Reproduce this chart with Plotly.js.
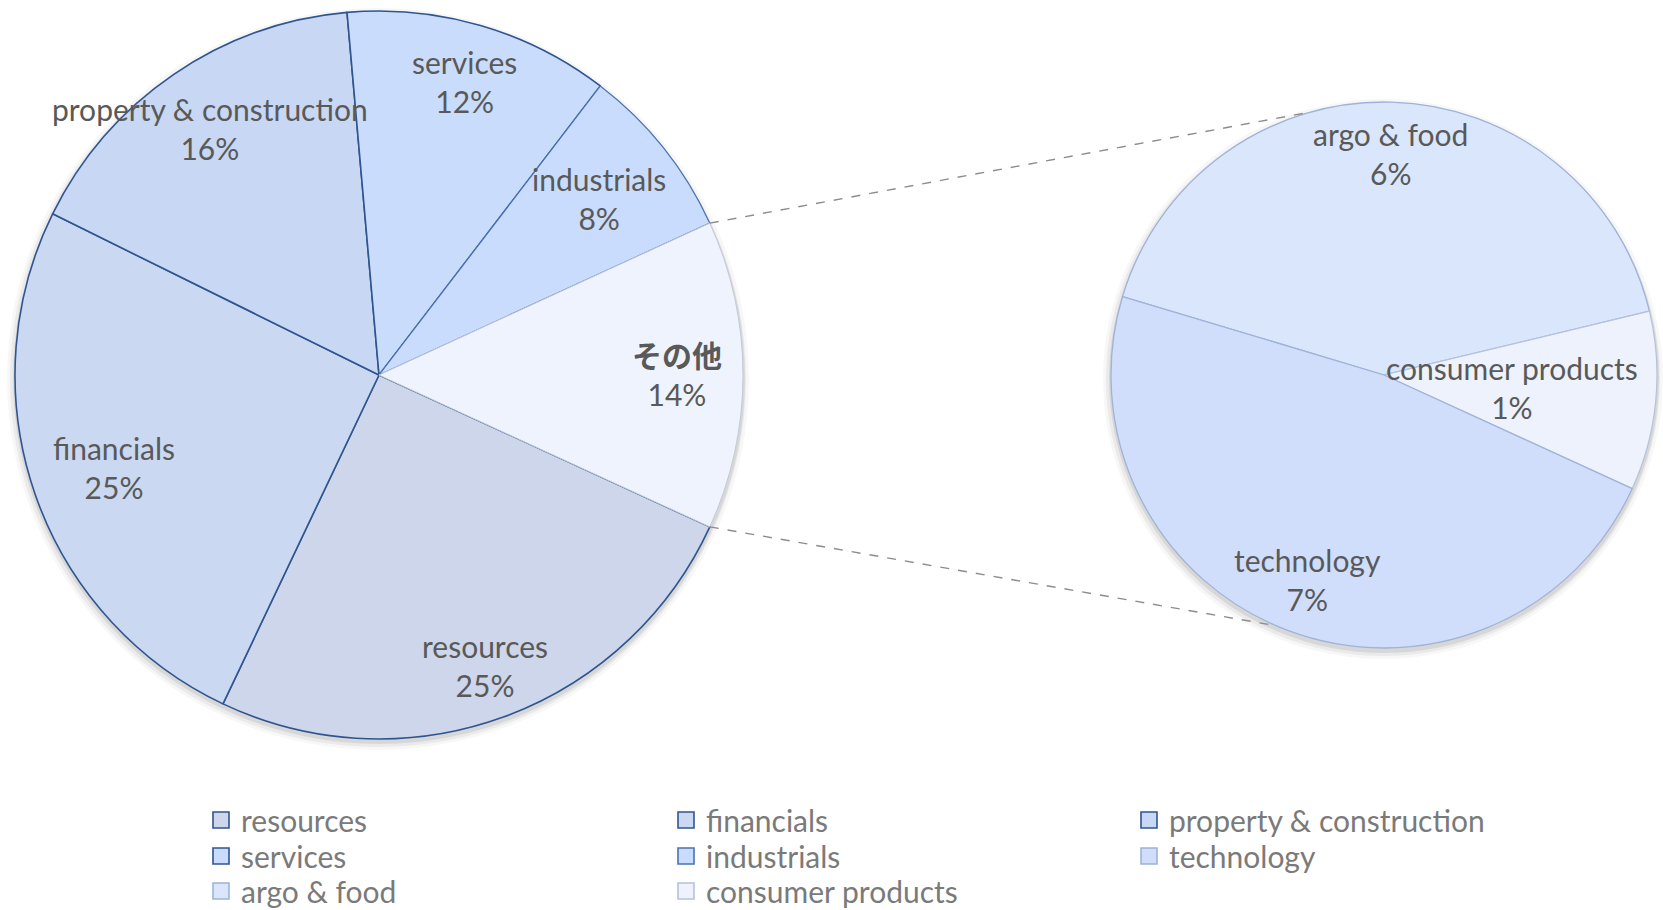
<!DOCTYPE html>
<html>
<head>
<meta charset="utf-8">
<script src="https://cdn.plot.ly/plotly-3.0.1.min.js"></script>
<style>
html,body{margin:0;padding:0;background:#fff;}
#chart{width:1663px;height:910px;}
</style>
</head>
<body>
<div id="chart"></div>
<script>
// ---- data ----
const mainLabels = ['resources', 'financials', 'property & construction', 'services', 'industrials'];
const mainValues = [25.2, 25.25, 16.3, 11.8, 7.75];
const otherLabel = 'その他';
const subLabels = ['argo & food', 'consumer products', 'technology'];
const subValues = [5.7, 1.45, 6.55];

// legend grid (rows of the reference legend)
const legendRows = [
  ['resources', 'financials', 'property & construction'],
  ['services', 'industrials', 'technology'],
  ['argo & food', 'consumer products']
];

// ---- styles ----
const fillColors = {
  'resources': '#cdd6ea',
  'financials': '#cad8f1',
  'property & construction': '#c7d7f4',
  'services': '#cadcfc',
  'industrials': '#c9dcfd',
  'その他': '#eff3fd',
  'argo & food': '#dae6fc',
  'consumer products': '#edf2fd',
  'technology': '#d0defb'
};
const lineColors = {
  'resources': '#2f5590',
  'financials': '#2f5590',
  'property & construction': '#2f5590',
  'services': '#2f5590',
  'industrials': '#4a72b0',
  'その他': '#c3cad6',
  'argo & food': '#9fb3d6',
  'consumer products': '#b4c2dc',
  'technology': '#9fb3d6'
};
const lineWidths = {
  'resources': 1.6, 'financials': 1.6, 'property & construction': 1.6, 'services': 1.6,
  'industrials': 1.2, 'その他': 1.0, 'argo & food': 1.3, 'consumer products': 1.2, 'technology': 1.3
};
// label distance from centre, as a fraction of the radius
const labelRadius = {
  'resources': 0.85, 'financials': 0.77, 'property & construction': 0.82, 'services': 0.84,
  'industrials': 0.775, 'その他': 0.82, 'argo & food': 0.81, 'consumer products': 0.47, 'technology': 0.80
};

const W = 1663, H = 910;
const FONT = 'Lato, "Noto Sans CJK JP", sans-serif';
const textColor = '#595959';
const fontSize = 30;

// geometry (pixels)
const main = {cx: 379, cy: 375, r: 364};
const sub = {cx: 1384, cy: 375, r: 273};
const subStartDeg = 163.3; // math angle where the first slice of the second pie starts
function dom(g) {
  return {
    x: [(g.cx - g.r) / W, (g.cx + g.r) / W],
    y: [1 - (g.cy + g.r) / H, 1 - (g.cy - g.r) / H]
  };
}
const px = x => x / W;
const py = y => 1 - y / H;

const otherValue = subValues.reduce((a, b) => a + b, 0);
const allMainLabels = mainLabels.concat([otherLabel]);
const allMainValues = mainValues.concat([otherValue]);
const total = allMainValues.reduce((a, b) => a + b, 0);
const halfOtherDeg = otherValue / total * 180;
const mainStartDeg = -halfOtherDeg;

const traces = [];
function pieTrace(labels, values, g, startDeg) {
  return {
    type: 'pie',
    labels: labels,
    values: values,
    sort: false,
    direction: 'clockwise',
    rotation: 90 - startDeg,
    domain: dom(g),
    showlegend: false,
    marker: {
      colors: labels.map(l => fillColors[l]),
      line: {color: labels.map(l => lineColors[l]), width: labels.map(l => lineWidths[l])}
    },
    textinfo: 'none',
    hoverinfo: 'label+value'
  };
}
traces.push(pieTrace(allMainLabels, allMainValues, main, mainStartDeg));
traces.push(pieTrace(subLabels, subValues, sub, subStartDeg));

// slice labels placed at each slice's mid-angle
const annotations = [];
function addLabels(labels, values, g, startDeg, pctOf) {
  const sum = values.reduce((a, b) => a + b, 0);
  let ang = startDeg;
  labels.forEach((l, i) => {
    const span = values[i] / sum * 360;
    const mid = (ang - span / 2) * Math.PI / 180;
    ang -= span;
    const rr = labelRadius[l] * g.r;
    const x = g.cx + rr * Math.cos(mid), y = g.cy - rr * Math.sin(mid);
    const name = /[^\x00-\x7f]/.test(l) ? '<b>' + l + '</b>' : l;
    annotations.push({
      xref: 'paper', yref: 'paper', x: px(x), y: py(y), xanchor: 'center', yanchor: 'middle',
      showarrow: false, align: 'center',
      text: name + '<br>' + Math.round(values[i] / pctOf * 100) + '%',
      font: {family: FONT, size: fontSize, color: textColor}
    });
  });
}
addLabels(allMainLabels, allMainValues, main, mainStartDeg, total);
addLabels(subLabels, subValues, sub, subStartDeg, total);

// legend entries: one single-item legend per cell of the grid
const colX = [201, 666, 1129];
const rowY = [820, 856, 891];
const legendFont = {family: FONT, size: fontSize, color: '#7a7a7a'};
const layoutLegends = {};
let k = 0;
legendRows.forEach((row, ri) => {
  row.forEach((name, ci) => {
    k += 1;
    const id = k === 1 ? 'legend' : 'legend' + k;
    layoutLegends[id] = {x: px(colX[ci]), y: py(rowY[ri]), xanchor: 'left', yanchor: 'middle',
      orientation: 'v', font: legendFont, bgcolor: 'rgba(0,0,0,0)', borderwidth: 0, itemclick: false};
    traces.push({
      type: 'scatter', mode: 'markers', x: [null], y: [null], name: name,
      legend: id, showlegend: true, hoverinfo: 'skip',
      marker: {symbol: 'square', size: 16, color: fillColors[name],
               line: {color: lineColors[name], width: 1.6}}
    });
  });
});

// connector lines (from edges of the "other" slice to the second pie)
const a = halfOtherDeg * Math.PI / 180;
const p1 = [main.cx + main.r * Math.cos(a), main.cy - main.r * Math.sin(a)];
const p2 = [main.cx + main.r * Math.cos(a), main.cy + main.r * Math.sin(a)];
const topAng = 105.5 * Math.PI / 180, botAng = 246.7 * Math.PI / 180;
const q1 = [sub.cx + sub.r * Math.cos(topAng), sub.cy - sub.r * Math.sin(topAng)];
const q2 = [sub.cx + sub.r * Math.cos(botAng), sub.cy - sub.r * Math.sin(botAng)];

function shadow(g, grow, dx, dy, alpha) {
  return {type: 'circle', xref: 'paper', yref: 'paper', layer: 'below',
    x0: px(g.cx - g.r - grow + dx), x1: px(g.cx + g.r + grow + dx),
    y0: py(g.cy + g.r + grow + dy), y1: py(g.cy - g.r - grow + dy),
    fillcolor: 'rgba(0,0,0,' + alpha + ')', line: {width: 0}};
}
const shapes = [
  shadow(main, 7, -1, 4, 0.03), shadow(main, 4, -1, 4, 0.05), shadow(main, 2, 0, 3, 0.08),
  shadow(sub, 7, -1, 4, 0.03), shadow(sub, 4, -1, 4, 0.05), shadow(sub, 2, 0, 3, 0.08),
  {type: 'line', xref: 'paper', yref: 'paper', x0: px(p1[0]), y0: py(p1[1]), x1: px(q1[0]), y1: py(q1[1]),
   line: {color: '#8c8c8c', width: 1.4, dash: 'dash'}},
  {type: 'line', xref: 'paper', yref: 'paper', x0: px(p2[0]), y0: py(p2[1]), x1: px(q2[0]), y1: py(q2[1]),
   line: {color: '#8c8c8c', width: 1.4, dash: 'dash'}}
];

const layout = Object.assign({
  width: W, height: H,
  margin: {l: 0, r: 0, t: 0, b: 0, autoexpand: false},
  paper_bgcolor: '#ffffff', plot_bgcolor: '#ffffff',
  xaxis: {visible: false, range: [0, 1]},
  yaxis: {visible: false, range: [0, 1]},
  shapes: shapes,
  annotations: annotations,
  hovermode: false
}, layoutLegends);

Plotly.newPlot('chart', traces, layout, {displayModeBar: false, staticPlot: true});
</script>
</body>
</html>
